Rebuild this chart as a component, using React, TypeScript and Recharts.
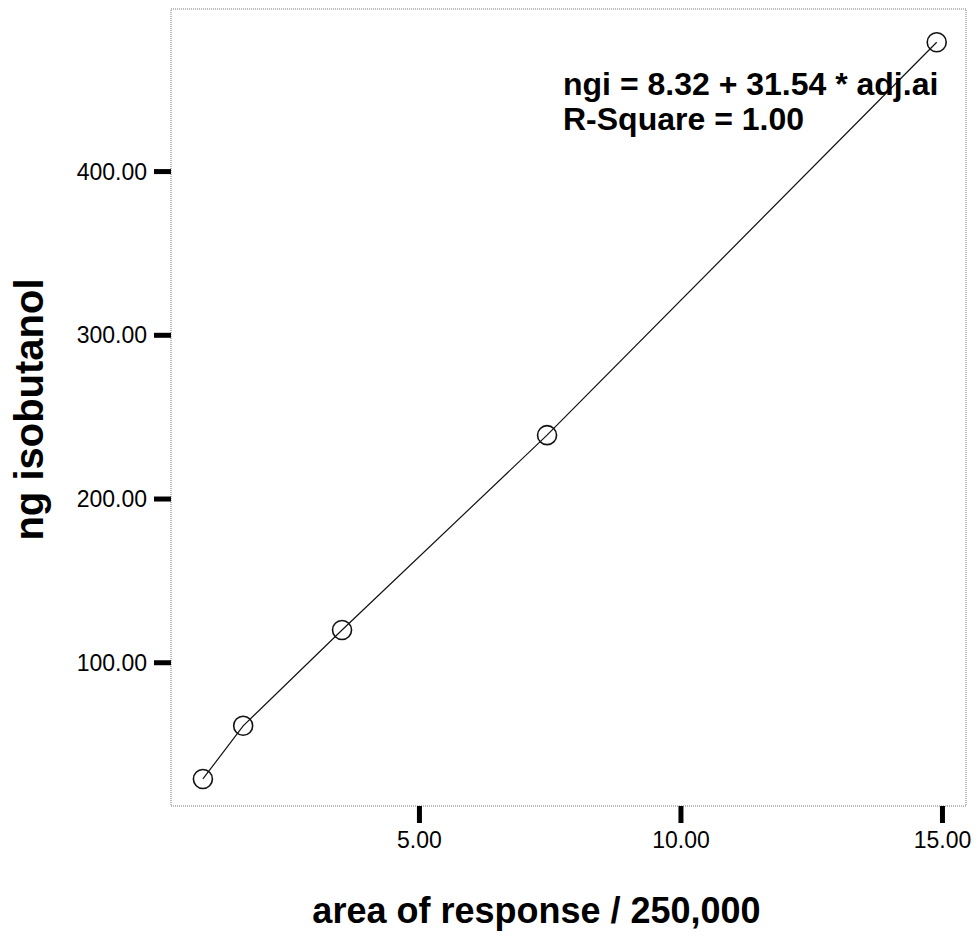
import React from 'react';
import { ComposedChart, XAxis, YAxis, Line, Scatter, ReferenceArea } from 'recharts';

// readings taken off the calibration plot
const areaValues = [0.86, 1.63, 3.52, 7.44, 14.89];
const ngValues = [29, 61.5, 120, 239, 479];
const xTicks = [5, 10, 15];
const yTicks = [100, 200, 300, 400];
const xDomain = [0.25, 15.45];
const yDomain = [12.5, 499.3];
const fitLines = ['ngi = 8.32 + 31.54 * adj.ai', 'R-Square = 1.00'];

const points = areaValues.map((x, i) => ({ x, y: ngValues[i] }));

const font = '"Liberation Sans", Arial, Helvetica, sans-serif';
const fmt = (v: number) => v.toFixed(2);

const Ring = (props: any) => (
  <circle cx={props.cx} cy={props.cy} r={9.5} fill="none" stroke="#111" strokeWidth={1.6} />
);

const XTitle = (props: any) => {
  const vb = props.viewBox;
  return (
    <text x={vb.x + vb.width / 2 - 32} y={vb.y + 117} textAnchor="middle" fontSize={36} fontWeight={700} fill="#000" fontFamily={font}>
      area of response / 250,000
    </text>
  );
};

const YTitle = (props: any) => {
  const vb = props.viewBox;
  const cy = vb.y + vb.height / 2 + 2;
  return (
    <text x={43} y={cy} transform={`rotate(-90, 43, ${cy})`} textAnchor="middle" fontSize={40} fontWeight={700} fill="#000" fontFamily={font}>
      ng isobutanol
    </text>
  );
};

const App = () => (
  <div style={{ position: 'absolute', left: 0, top: 0, width: 977, height: 938, background: '#fff', fontFamily: font }}>
    <ComposedChart width={977} height={938} data={points} margin={{ top: 9, right: 11, left: 0, bottom: 0 }}>
      <XAxis
        type="number"
        dataKey="x"
        domain={xDomain}
        ticks={xTicks}
        tickFormatter={fmt}
        allowDataOverflow
        height={132}
        axisLine={false}
        tickLine={{ stroke: '#000', strokeWidth: 5 }}
        tickSize={17}
        tickMargin={9}
        tick={{ fill: '#000', fontSize: 23, fontFamily: font }}
        label={{ value: 'x', content: XTitle }}
      />
      <YAxis
        type="number"
        domain={yDomain}
        ticks={yTicks}
        tickFormatter={fmt}
        allowDataOverflow
        width={171}
        axisLine={false}
        tickLine={{ stroke: '#000', strokeWidth: 5 }}
        tickSize={17}
        tickMargin={7}
        tick={{ fill: '#000', fontSize: 23, fontFamily: font }}
        label={{ value: 'y', content: YTitle }}
      />
      <ReferenceArea x1={xDomain[0]} x2={xDomain[1]} y1={yDomain[0]} y2={yDomain[1]} fill="none" stroke="#777" strokeDasharray="1 1" />
      <Line dataKey="y" type="linear" stroke="#111" strokeWidth={1.2} dot={false} isAnimationActive={false} />
      <Scatter dataKey="y" shape={Ring} isAnimationActive={false} />
    </ComposedChart>
    <svg width={977} height={938} style={{ position: 'absolute', left: 0, top: 0, pointerEvents: 'none' }}>
      {fitLines.map((t, i) => (
        <text key={t} x={563} y={95 + i * 35} fontSize={32} fontWeight={700} fill="#000" fontFamily={font}>
          {t}
        </text>
      ))}
    </svg>
  </div>
);

export default App;
